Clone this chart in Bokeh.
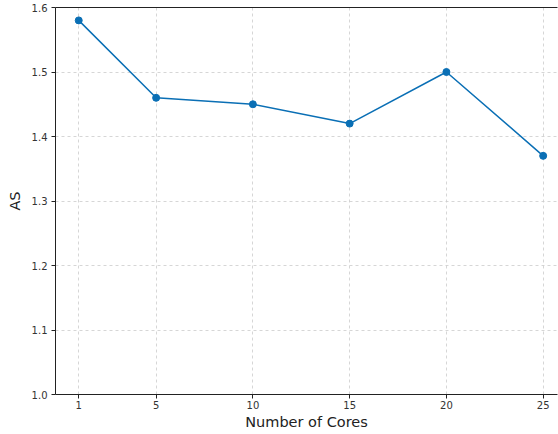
from bokeh.plotting import figure
from bokeh.models import LinearAxis, FixedTicker, Range1d, PrintfTickFormatter
from bokeh.embed import file_html
from bokeh.resources import INLINE

cores = [1, 5, 10, 15, 20, 25]
as_values = [1.58, 1.46, 1.45, 1.42, 1.50, 1.37]
x_ticks = [1, 5, 10, 15, 20, 25]
y_ticks = [1.0, 1.1, 1.2, 1.3, 1.4, 1.5, 1.6]

color = "#0a6fb5"
font = "DejaVu Sans"

p = figure(frame_width=502, frame_height=387, output_backend="svg", toolbar_location=None,
           x_range=Range1d(-0.2, 25.74), y_range=Range1d(1.0, 1.6),
           min_border_left=55, min_border_right=1, min_border_top=7, min_border_bottom=40)
p.outline_line_color = None
p.background_fill_color = "white"

p.line(cores, as_values, line_color=color, line_width=1.5)
p.scatter(cores, as_values, size=7, fill_color=color, line_color=color)

for ax in (p.xaxis, p.yaxis):
    ax.major_tick_in = 0
    ax.major_tick_out = 4
    ax.minor_tick_line_color = None
    ax.axis_line_color = "#222222"
    ax.major_tick_line_color = "#222222"
    ax.major_label_text_font = font
    ax.major_label_text_font_size = "10px"
    ax.major_label_text_color = "#333333"
    ax.axis_label_text_font = font
    ax.axis_label_text_font_size = "14.5px"
    ax.axis_label_text_font_style = "normal"
    ax.axis_label_text_color = "#222222"

p.xaxis.ticker = FixedTicker(ticks=x_ticks)
p.yaxis.ticker = FixedTicker(ticks=y_ticks)
p.yaxis.formatter = PrintfTickFormatter(format="%.1f")
p.xaxis.axis_label = "Number of Cores"
p.yaxis.axis_label = "AS"
p.xaxis.axis_label_standoff = 2
p.yaxis.axis_label_standoff = 6
p.xaxis.major_label_standoff = 2
p.yaxis.major_label_standoff = 4

top = LinearAxis(ticker=FixedTicker(ticks=[]), major_label_text_font_size="0px",
                 major_tick_line_color=None, minor_tick_line_color=None,
                 major_tick_out=0, major_label_standoff=0,
                 axis_line_color="#222222")
p.add_layout(top, "above")

p.xgrid.grid_line_color = "#cccccc"
p.ygrid.grid_line_color = "#cccccc"
p.xgrid.grid_line_dash = "3 3"
p.ygrid.grid_line_dash = "3 3"
p.xgrid.grid_line_width = 0.8
p.ygrid.grid_line_width = 0.8

open("out.html", "w").write(file_html(p, INLINE))
